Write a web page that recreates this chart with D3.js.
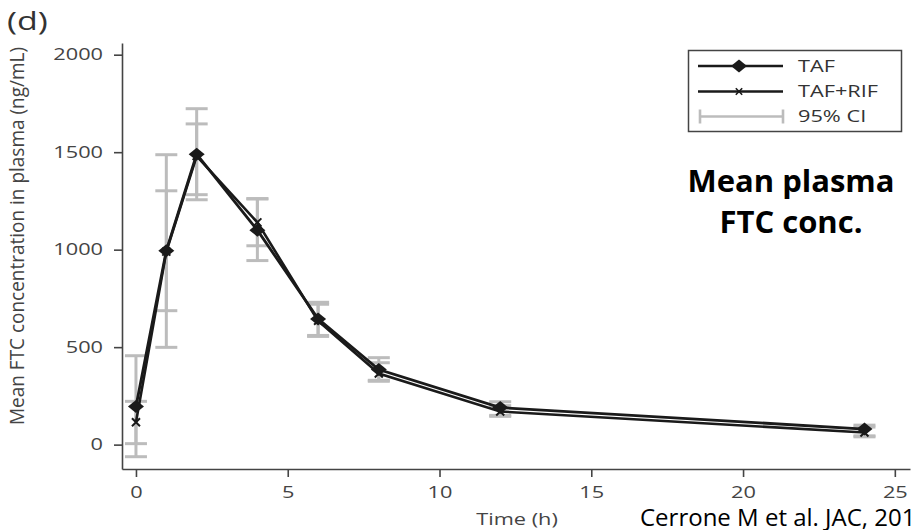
<!DOCTYPE html>
<html>
<head>
<meta charset="utf-8">
<script src="https://cdn.jsdelivr.net/npm/d3@7"></script>
<style>
  html, body { margin: 0; padding: 0; background: #fff; overflow: hidden; }
  svg { display: block; }
</style>
</head>
<body>
<div id="chart"></div>
<script>
// data
var times = [0, 1, 2, 4, 6, 8, 12, 24];
var tafMean = [195, 995, 1490, 1100, 645, 385, 190, 80];
var rifMean = [115, 990, 1480, 1140, 635, 365, 170, 62];
var tafLow = [-62, 499, 1256, 944, 555, 325, 150, 45];
var tafHigh = [456, 1487, 1723, 1262, 730, 446, 220, 100];
var rifLow = [5, 687, 1282, 1020, 560, 330, 145, 40];
var rifHigh = [222, 1302, 1645, 1260, 720, 420, 200, 90];
var xTicks = [0, 5, 10, 15, 20, 25];
var yTicks = [0, 500, 1000, 1500, 2000];

const w = 914;
const h = 530;
const sx = 1.36; // the original figure is stretched sideways

const svg = d3.select("#chart")
    .append("svg")
    .attr("width", w)
    .attr("height", h)
    .style("font-family", "'Open Sans', sans-serif");

const xScale = d3.scaleLinear()
    .domain([-0.46, 25.5])
    .range([122, 910]);

const yScale = d3.scaleLinear()
    .domain([-125, 2060])
    .range([469, 43]);

// stretched text helper
function stext(x, y, str, size, anchor, fill) {
    return svg.append("text")
        .attr("transform", "translate(" + x + "," + y + ") scale(" + sx + ",1)")
        .attr("text-anchor", anchor || "start")
        .attr("fill", fill || "#444")
        .style("font-size", size + "px")
        .text(str);
}

// axes
const xAxis = d3.axisBottom(xScale).tickValues(xTicks).tickFormat(d3.format("d"))
    .tickSize(8).tickSizeOuter(0).tickPadding(10);
const yAxis = d3.axisLeft(yScale).tickValues(yTicks).tickFormat(d3.format("d"))
    .tickSize(8).tickSizeOuter(0).tickPadding(11);

const gx = svg.append("g")
    .attr("transform", "translate(0," + 469 + ")")
    .call(xAxis);
const gy = svg.append("g")
    .attr("transform", "translate(" + 122 + ",0)")
    .call(yAxis);

[gx, gy].forEach(g => {
    g.select(".domain").attr("stroke", "#444").attr("stroke-width", 1.6);
    g.selectAll(".tick line").attr("stroke", "#444").attr("stroke-width", 1.6);
    g.selectAll(".tick text")
        .attr("fill", "#444")
        .style("font-size", "16px")
        .style("font-family", "'Open Sans', sans-serif");
});
gy.selectAll(".tick text")
    .attr("x", -19 / sx)
    .attr("transform", "scale(" + sx + ",1)");
gx.selectAll(".tick text")
    .attr("transform", "scale(" + sx + ",1)");

// axis titles
stext(517, 525, "Time (h)", 16, "middle");

svg.append("text")
    .attr("transform", "translate(24,236) rotate(-90) scale(1," + sx + ")")
    .attr("text-anchor", "middle")
    .attr("fill", "#444")
    .style("font-size", "14px")
    .attr("textLength", 378)
    .attr("lengthAdjust", "spacingAndGlyphs")
    .text("Mean FTC concentration in plasma (ng/mL)");

stext(7, 30, "(d)", 25, "start", "#333");

// 95% CI error bars
const capW = 11;
function drawCI(low, high) {
    const g = svg.append("g").attr("stroke", "#bcbcbc").attr("stroke-width", 3).attr("fill", "none");
    times.forEach((t, i) => {
        const x = xScale(t);
        g.append("line").attr("x1", x).attr("x2", x).attr("y1", yScale(low[i])).attr("y2", yScale(high[i]));
        g.append("line").attr("x1", x - capW).attr("x2", x + capW).attr("y1", yScale(low[i])).attr("y2", yScale(low[i]));
        g.append("line").attr("x1", x - capW).attr("x2", x + capW).attr("y1", yScale(high[i])).attr("y2", yScale(high[i]));
    });
}
drawCI(tafLow, tafHigh);
drawCI(rifLow, rifHigh);

// lines
const line = d3.line()
    .x((d) => xScale(d[0]))
    .y((d) => yScale(d[1]));

svg.append("path")
    .datum(times.map((t, i) => [t, rifMean[i]]))
    .attr("d", line)
    .attr("fill", "none")
    .attr("stroke", "#1a1a1a")
    .attr("stroke-width", 2.6);

svg.append("path")
    .datum(times.map((t, i) => [t, tafMean[i]]))
    .attr("d", line)
    .attr("fill", "none")
    .attr("stroke", "#1a1a1a")
    .attr("stroke-width", 2.8);

// markers
const cross = "M-4,-4L4,4M-4,4L4,-4";
svg.selectAll(".rif")
    .data(times)
    .enter()
    .append("path")
    .attr("class", "rif")
    .attr("transform", (d, i) => "translate(" + xScale(d) + "," + yScale(rifMean[i]) + ")")
    .attr("d", cross)
    .attr("stroke", "#1a1a1a")
    .attr("stroke-width", 2);

const diamond = "M-8,0L0,-6.5L8,0L0,6.5Z";
svg.selectAll(".taf")
    .data(times)
    .enter()
    .append("path")
    .attr("class", "taf")
    .attr("transform", (d, i) => "translate(" + xScale(d) + "," + yScale(tafMean[i]) + ")")
    .attr("d", diamond)
    .attr("fill", "#1a1a1a");

// legend
const lg = svg.append("g");
lg.append("rect")
    .attr("x", 688.5).attr("y", 50.5)
    .attr("width", 213).attr("height", 81)
    .attr("fill", "#fff").attr("stroke", "#444").attr("stroke-width", 1.5);

const legendRows = [
    { label: "TAF", y: 66 },
    { label: "TAF+RIF", y: 91.5 },
    { label: "95% CI", y: 116.5 }
];
legendRows.forEach((r, i) => {
    if (i < 2) {
        lg.append("line")
            .attr("x1", 698).attr("x2", 783).attr("y1", r.y).attr("y2", r.y)
            .attr("stroke", "#1a1a1a").attr("stroke-width", 2.6);
    } else {
        lg.append("line")
            .attr("x1", 700).attr("x2", 783).attr("y1", r.y).attr("y2", r.y)
            .attr("stroke", "#bcbcbc").attr("stroke-width", 2.6);
        lg.append("line")
            .attr("x1", 700).attr("x2", 700).attr("y1", r.y - 7).attr("y2", r.y + 7)
            .attr("stroke", "#bcbcbc").attr("stroke-width", 2.6);
        lg.append("line")
            .attr("x1", 783).attr("x2", 783).attr("y1", r.y - 7).attr("y2", r.y + 7)
            .attr("stroke", "#bcbcbc").attr("stroke-width", 2.6);
    }
    stext(798, r.y + 5.5, r.label, 16, "start", "#333");
});
lg.append("path")
    .attr("transform", "translate(739,66)")
    .attr("d", diamond)
    .attr("fill", "#1a1a1a");
lg.append("path")
    .attr("transform", "translate(739,91.5) scale(0.8)")
    .attr("d", cross)
    .attr("stroke", "#1a1a1a")
    .attr("stroke-width", 2);

// annotation
svg.append("text")
    .attr("x", 791).attr("y", 192)
    .attr("text-anchor", "middle")
    .attr("fill", "#000")
    .style("font-size", "31px")
    .style("font-weight", "bold")
    .text("Mean plasma");
svg.append("text")
    .attr("x", 791).attr("y", 233)
    .attr("text-anchor", "middle")
    .attr("fill", "#000")
    .style("font-size", "31px")
    .style("font-weight", "bold")
    .text("FTC conc.");

svg.append("text")
    .attr("x", 640).attr("y", 526)
    .attr("fill", "#000")
    .style("font-size", "24px")
    .text("Cerrone M et al. JAC, 2019");
</script>
</body>
</html>
